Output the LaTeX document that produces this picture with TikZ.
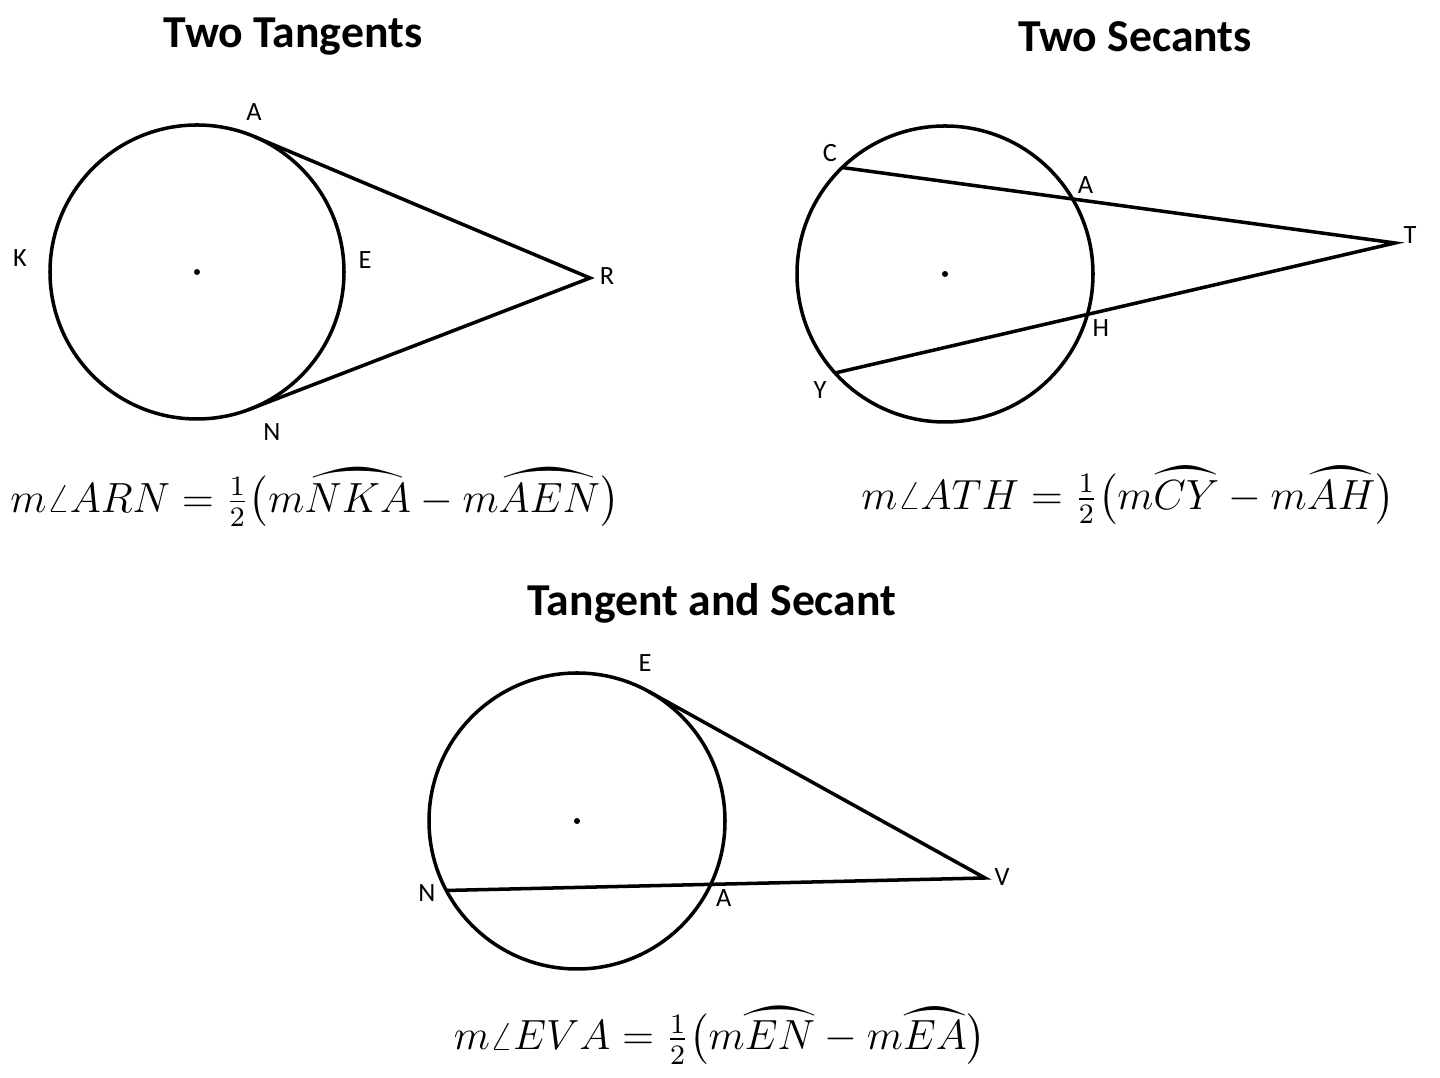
\documentclass[tikz,border=0pt]{standalone}
\usepackage{amsmath}
\usepackage{yhmath}
\usepackage{fontspec}
\setmainfont{Carlito}
\usetikzlibrary{calc,intersections}

\tikzset{
    pt/.style={font=\fontsize{7.5}{8}\selectfont, inner sep=1pt},
    ttl/.style={font=\fontsize{13}{15}\selectfont\bfseries},
    frm/.style={font=\fontsize{12}{14}\selectfont},
}

\begin{document}
\begin{tikzpicture}[line width=1pt]

    \useasboundingbox (0,0) rectangle (14.4,-10.78);

    % two tangents
    \node[ttl] (ttlA) at (2.93,-0.37) {Two Tangents};
    \coordinate (o1) at (1.97,-2.72);
    \draw (o1) circle (1.47);
    \fill (o1) circle (0.03);
    \coordinate (A1) at ($(o1)+(67:1.47)$);
    \coordinate (N1) at ($(o1)+(-69:1.47)$);
    \coordinate (R) at (5.90,-2.78);
    \draw (A1) -- (R) -- (N1);
    \node[pt] (lA1) at (2.54,-1.12) {A};
    \node[pt] (lK) at (0.20,-2.58) {K};
    \node[pt] (lE1) at (3.65,-2.60) {E};
    \node[pt] (lR) at (6.07,-2.76) {R};
    \node[pt] (lN1) at (2.72,-4.32) {N};
    \node[frm] (frmA) at (3.15,-4.97)
        {$m\angle ARN=\frac{1}{2}\bigl(m\wideparen{NKA}-m\wideparen{AEN}\bigr)$};

    % two secants
    \node[ttl] (ttlB) at (11.35,-0.37) {Two Secants};
    \coordinate (o2) at (9.45,-2.74);
    \draw[name path = circ2] (o2) circle (1.48);
    \fill (o2) circle (0.03);
    \coordinate (C) at ($(o2)+(134:1.48)$);
    \coordinate (Y) at ($(o2)+(222:1.48)$);
    \coordinate (T) at (13.95,-2.43);
    \draw (C) -- (T) -- (Y);
    \path[name path = ct] ($(C)!0.2!(T)$) -- (T);
    \path[name path = yt] ($(Y)!0.2!(T)$) -- (T);
    \path[name intersections={of=circ2 and ct}] (intersection-1) coordinate (A2);
    \path[name intersections={of=circ2 and yt}] (intersection-1) coordinate (H);
    \node[pt] (lC) at (8.30,-1.53) {C};
    \node[pt, above right] (lA2) at (A2) {A};
    \node[pt] (lT) at (14.10,-2.35) {T};
    \node[pt, below right] (lH) at (H) {H};
    \node[pt] (lY) at (8.20,-3.90) {Y};
    \node[frm] (frmB) at (11.28,-4.95)
        {$m\angle ATH=\frac{1}{2}\bigl(m\wideparen{CY}-m\wideparen{AH}\bigr)$};

    % tangent and secant
    \node[ttl] (ttlC) at (7.12,-6.03) {Tangent and Secant};
    \coordinate (o3) at (5.77,-8.21);
    \draw[name path = circ3] (o3) circle (1.48);
    \fill (o3) circle (0.03);
    \coordinate (E3) at ($(o3)+(61:1.48)$);
    \coordinate (N3) at ($(o3)+(208:1.48)$);
    \coordinate (V) at (9.85,-8.78);
    \draw (E3) -- (V) -- (N3);
    \path[name path = nv] ($(N3)!0.2!(V)$) -- (V);
    \path[name intersections={of=circ3 and nv}] (intersection-1) coordinate (A3);
    \node[pt] (lE3) at (6.45,-6.63) {E};
    \node[pt] (lV) at (10.02,-8.77) {V};
    \node[pt] (lN3) at (4.27,-8.93) {N};
    \node[pt, below right] (lA3) at (A3) {A};
    \node[frm] (frmC) at (7.20,-10.35)
        {$m\angle EVA=\frac{1}{2}\bigl(m\wideparen{EN}-m\wideparen{EA}\bigr)$};

\end{tikzpicture}
\end{document}
